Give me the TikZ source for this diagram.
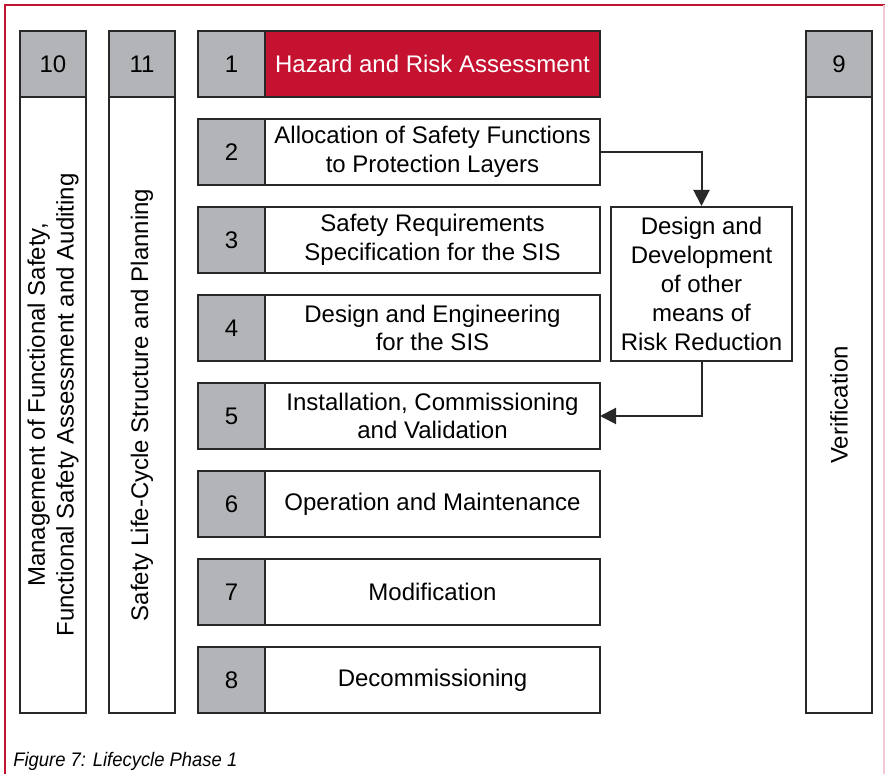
\documentclass[tikz,border=0pt]{standalone}
\usepackage{fontspec}
\setmainfont{Liberation Sans}
\usepackage{tikz}
\usetikzlibrary{positioning,arrows.meta}
\definecolor{hazred}{RGB}{196,18,48}
\definecolor{numgray}{RGB}{179,180,183}
\definecolor{lineblack}{RGB}{40,40,40}
\definecolor{framepink}{RGB}{240,200,212}

\begin{document}
\begin{tikzpicture}[x=0.5pt, y=-0.5pt,
  font=\fontsize{12}{14.4}\selectfont,
  numbox/.style={draw=lineblack, line width=1pt, fill=numgray, outer sep=0pt, inner sep=0pt, minimum width=33.5pt, minimum height=33pt},
  phasebox/.style={draw=lineblack, line width=1pt, fill=white, outer sep=0pt, inner sep=2pt, minimum width=167.5pt, minimum height=33pt, align=center},
  colbody/.style={draw=lineblack, line width=1pt, outer sep=0pt, rotate=90, anchor=east, minimum width=308pt, minimum height=33pt, align=center},
  link/.style={draw=lineblack, line width=1pt, -{Triangle[length=8pt,width=8pt]}}]

  % Frame
  \useasboundingbox (0,0) rectangle (885,774);
  \draw[hazred, line width=1.4pt] (5,774) -- (5,5) -- (885,5);
  \draw[framepink, line width=0.6pt] (884,5) -- (884,774);

  % Side columns
  \foreach \n/\x/\t in {10/20/{Management of Functional Safety,\\Functional Safety Assessment and Auditing}, 11/109/{Safety Life-Cycle Structure and Planning}, 9/806/{Verification}} {
    \node[numbox, minimum width=33pt, anchor=north west] (h\n) at (\x,31) {\n};
    \node[colbody] (c\n) at (h\n.south) {\t};
  }

  % Phases
  \node[numbox, anchor=north west] (n1) at (198,31) {1};
  \node[phasebox, fill=hazred, text=white, anchor=west] (p1) at (n1.east) {Hazard and Risk Assessment};
  \foreach \n/\t in {2/{Allocation of Safety Functions\\to Protection Layers}, 3/{Safety Requirements\\Specification for the SIS}, 4/{Design and Engineering\\for the SIS}, 5/{Installation, Commissioning\\and Validation}, 6/{Operation and Maintenance}, 7/{Modification}, 8/{Decommissioning}} {
    \node[numbox, anchor=north west] (n\n) at (198,{31+88*(\n-1)}) {\n};
    \node[phasebox, anchor=west] (p\n) at (n\n.east) {\t};
  }

  % Other means of risk reduction
  \node[draw=lineblack, line width=1pt, minimum width=90.5pt, minimum height=77pt, inner sep=2pt, align=center] (other) at (701.5,284) {Design and\\Development\\of other\\means of\\Risk Reduction};
  \draw[link] (p2.east) -| (other.north);
  \draw[link] (other.south) |- (p5.east);

  % Caption
  \node[anchor=base west, inner sep=0pt, xscale=0.94, font=\fontsize{9.8}{11}\selectfont\itshape] (caption) at (13,767) {Figure 7: Lifecycle Phase 1};
\end{tikzpicture}
\end{document}
